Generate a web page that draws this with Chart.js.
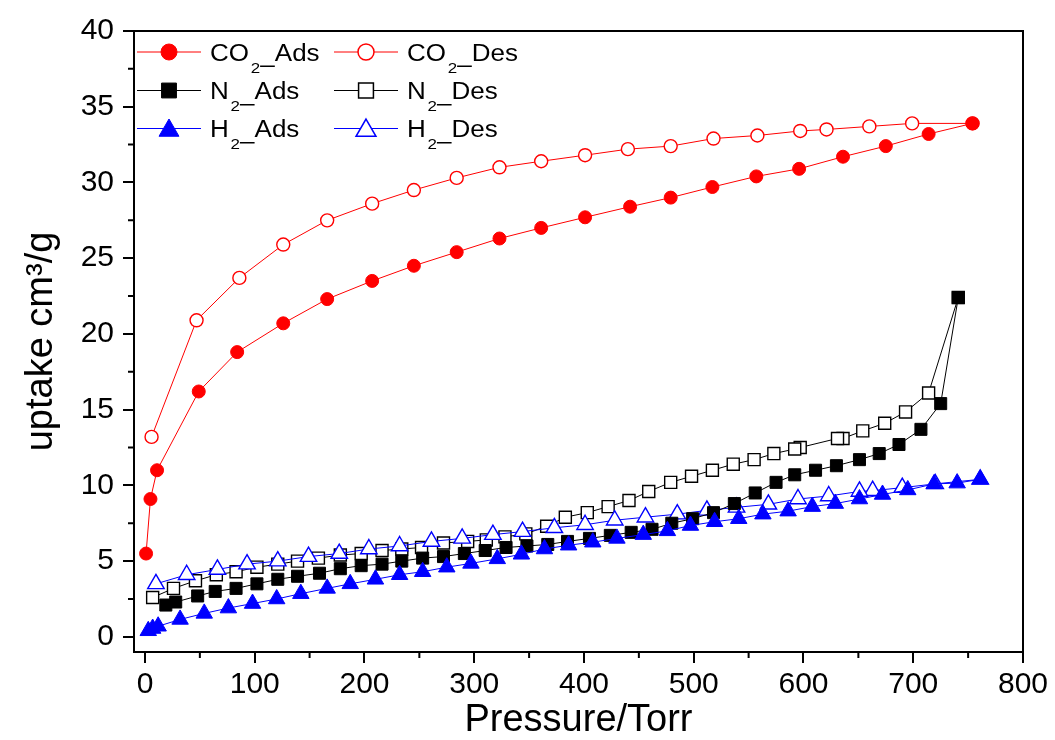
<!DOCTYPE html>
<html lang="en">
<head>
    <meta charset="UTF-8">
    <title>Gas uptake isotherms</title>
    <script src="https://cdn.jsdelivr.net/npm/chart.js"></script>
    <style>
        body { margin: 0; background: #fff; }
        #wrap { width: 1055px; height: 740px; }
    </style>
</head>
<body>
    <div id="wrap"><canvas id="isoChart" width="1055" height="740"></canvas></div>
    <script>
        // axis ticks
        const xTicks = [0, 100, 200, 300, 400, 500, 600, 700, 800];
        const yTicks = [0, 5, 10, 15, 20, 25, 30, 35, 40];

        // CO2 adsorption / desorption (pressure in Torr, uptake in cm3/g)
        const co2AdsP = [1, 5, 11, 49, 84, 126, 166, 207, 245, 284, 323, 361, 401, 442, 479, 517, 557, 596, 636, 675, 714, 754];
        const co2AdsU = [5.5, 9.1, 11.0, 16.2, 18.8, 20.7, 22.3, 23.5, 24.5, 25.4, 26.3, 27.0, 27.7, 28.4, 29.0, 29.7, 30.4, 30.9, 31.7, 32.4, 33.2, 33.9];
        const co2DesP = [754, 699, 660, 621, 597, 558, 518, 479, 440, 401, 361, 323, 284, 245, 207, 166, 126, 86, 47, 6];
        const co2DesU = [33.9, 33.9, 33.7, 33.5, 33.4, 33.1, 32.9, 32.4, 32.2, 31.8, 31.4, 31.0, 30.3, 29.5, 28.6, 27.5, 25.9, 23.7, 20.9, 13.2];

        // N2
        const n2AdsP = [19, 28, 48, 64, 83, 102, 121, 139, 159, 178, 197, 216, 234, 253, 272, 291, 310, 329, 348, 367, 385, 405, 424, 443, 462, 480, 499, 518, 537, 556, 575, 592, 611, 630, 651, 669, 687, 707, 725, 741];
        const n2AdsU = [2.1, 2.3, 2.7, 3.0, 3.2, 3.5, 3.8, 4.0, 4.2, 4.5, 4.7, 4.8, 5.0, 5.2, 5.3, 5.5, 5.7, 5.9, 6.0, 6.1, 6.3, 6.5, 6.7, 6.9, 7.1, 7.5, 7.8, 8.2, 8.8, 9.5, 10.2, 10.7, 11.0, 11.3, 11.7, 12.1, 12.7, 13.7, 15.4, 22.4];
        const n2DesP = [741, 714, 693, 674, 654, 636, 631, 597, 592, 573, 555, 536, 517, 498, 479, 459, 441, 422, 403, 383, 366, 347, 328, 311, 294, 272, 252, 234, 216, 197, 178, 158, 139, 121, 102, 83, 65, 46, 26, 7];
        const n2DesU = [22.4, 16.1, 14.85, 14.1, 13.6, 13.1, 13.1, 12.5, 12.4, 12.1, 11.7, 11.4, 11.0, 10.6, 10.2, 9.6, 9.0, 8.6, 8.2, 7.9, 7.3, 6.8, 6.6, 6.4, 6.3, 6.2, 5.9, 5.8, 5.7, 5.5, 5.4, 5.2, 5.0, 4.8, 4.6, 4.3, 4.1, 3.7, 3.2, 2.6];

        // H2
        const h2AdsP = [3, 7, 12, 32, 54, 76, 98, 120, 142, 166, 187, 210, 232, 253, 275, 297, 321, 343, 364, 386, 408, 430, 454, 476, 497, 519, 541, 563, 586, 608, 629, 651, 672, 695, 719, 740, 761];
        const h2AdsU = [0.4, 0.55, 0.7, 1.15, 1.55, 1.9, 2.2, 2.5, 2.85, 3.2, 3.5, 3.8, 4.1, 4.3, 4.6, 4.85, 5.15, 5.45, 5.8, 6.05, 6.25, 6.5, 6.75, 7.0, 7.35, 7.6, 7.8, 8.1, 8.3, 8.6, 8.8, 9.1, 9.4, 9.7, 10.1, 10.15, 10.4];
        const h2DesP = [761, 720, 690, 663, 651, 623, 595, 568, 539, 512, 485, 456, 428, 401, 373, 344, 317, 289, 261, 232, 204, 177, 149, 121, 93, 66, 38, 10];
        const h2DesU = [10.4, 10.1, 9.85, 9.65, 9.6, 9.3, 9.1, 8.75, 8.55, 8.35, 8.1, 7.9, 7.7, 7.4, 7.2, 6.95, 6.75, 6.5, 6.3, 6.0, 5.8, 5.5, 5.3, 5.0, 4.8, 4.45, 4.1, 3.5];

        const FONT = "'Liberation Sans', Arial, sans-serif";
        const toXY = (xs, ys) => xs.map((x, i) => ({ x: x, y: ys[i] }));

        // name pieces: gas, subscript, suffix; z = draw weight (lower ends up on top)
        const series = [
            { gas: 'CO', sub: '2', tail: 'Ads', xs: co2AdsP, ys: co2AdsU, color: '#ff0000', style: 'circle', r: 6.5, open: false, z: 3 },
            { gas: 'CO', sub: '2', tail: 'Des', xs: co2DesP, ys: co2DesU, color: '#ff0000', style: 'circle', r: 6.5, open: true, z: 6 },
            { gas: 'N', sub: '2', tail: 'Ads', xs: n2AdsP, ys: n2AdsU, color: '#000000', style: 'rect', r: 8.5, open: false, z: 2 },
            { gas: 'N', sub: '2', tail: 'Des', xs: n2DesP, ys: n2DesU, color: '#000000', style: 'rect', r: 8.5, open: true, z: 5 },
            { gas: 'H', sub: '2', tail: 'Ads', xs: h2AdsP, ys: h2AdsU, color: '#0000ff', style: 'triangle', r: 9.5, open: false, z: 1 },
            { gas: 'H', sub: '2', tail: 'Des', xs: h2DesP, ys: h2DesU, color: '#0000ff', style: 'triangle', r: 9.5, open: true, z: 4 }
        ];

        const datasets = series.map((s) => ({
            label: s.gas + '\u2082_' + s.tail,
            data: toXY(s.xs, s.ys),
            borderColor: s.color,
            borderWidth: 1,
            backgroundColor: s.color,
            pointStyle: s.style,
            pointRadius: s.r,
            pointBackgroundColor: s.open ? '#ffffff' : s.color,
            pointBorderColor: s.color,
            pointBorderWidth: s.open ? 1.4 : 1,
            order: s.z,
            tension: 0,
            fill: false
        }));

        // marker for the legend
        function marker(ctx, style, x, y, r, color, open) {
            ctx.save();
            ctx.beginPath();
            if (style === 'circle') {
                ctx.arc(x, y, r, 0, Math.PI * 2);
            } else if (style === 'rect') {
                const h = r * Math.SQRT1_2;
                ctx.rect(x - h, y - h, 2 * h, 2 * h);
            } else {
                const c = Math.cos(Math.PI / 6);
                ctx.moveTo(x, y - r);
                ctx.lineTo(x + c * r, y + r / 2);
                ctx.lineTo(x - c * r, y + r / 2);
                ctx.closePath();
            }
            ctx.fillStyle = open ? '#ffffff' : color;
            ctx.fill();
            ctx.lineWidth = open ? 1.5 : 1;
            ctx.strokeStyle = color;
            ctx.stroke();
            ctx.restore();
        }

        const framePlugin = {
            id: 'frame',
            afterDraw(chart) {
                const ctx = chart.ctx;
                const a = chart.chartArea;
                const xs = chart.scales.x, ys = chart.scales.y;
                ctx.save();
                ctx.strokeStyle = '#000';
                ctx.lineWidth = 2;
                ctx.strokeRect(a.left, a.top, a.right - a.left, a.bottom - a.top);
                // minor ticks
                ctx.beginPath();
                for (let v = 50; v < 800; v += 100) {
                    const px = xs.getPixelForValue(v);
                    ctx.moveTo(px, a.bottom);
                    ctx.lineTo(px, a.bottom + 6);
                }
                for (let v = 2.5; v < 40; v += 5) {
                    const py = ys.getPixelForValue(v);
                    ctx.moveTo(a.left, py);
                    ctx.lineTo(a.left - 6, py);
                }
                ctx.stroke();
                ctx.restore();

                // legend: two columns, three rows (text is a bit wider than plain Arial)
                const colX = [137, 334];
                const rowY = [52, 90.5, 128.5];
                const lr = { circle: 8, rect: 10.5, triangle: 11.5 };
                const sx = 1.13;
                series.forEach((s, i) => {
                    const x0 = colX[i % 2];
                    const y = rowY[Math.floor(i / 2)];
                    ctx.save();
                    ctx.strokeStyle = s.color;
                    ctx.lineWidth = 1;
                    ctx.beginPath();
                    ctx.moveTo(x0, y);
                    ctx.lineTo(x0 + 64, y);
                    ctx.stroke();
                    marker(ctx, s.style, x0 + 32, y + (s.style === 'triangle' ? 2 : 0), lr[s.style], s.color, s.open);
                    ctx.fillStyle = '#000';
                    ctx.textBaseline = 'alphabetic';
                    ctx.textAlign = 'left';
                    const base = y + 8.5;
                    let tx = x0 + 73;
                    ctx.translate(tx, 0);
                    ctx.scale(sx, 1);
                    tx = 0;
                    ctx.font = '23px ' + FONT;
                    ctx.fillText(s.gas, tx, base);
                    tx += ctx.measureText(s.gas).width + 1.5;
                    ctx.font = '15px ' + FONT;
                    ctx.fillText(s.sub, tx, base + 12);
                    tx += ctx.measureText(s.sub).width;
                    ctx.fillRect(tx, base + 5, 13, 1.5);
                    tx += 13;
                    ctx.font = '23px ' + FONT;
                    ctx.fillText(s.tail, tx, base);
                    ctx.restore();
                });
            }
        };

        const ctx = document.getElementById('isoChart').getContext('2d');
        new Chart(ctx, {
            type: 'line',
            data: { datasets: datasets },
            options: {
                responsive: false,
                animation: false,
                devicePixelRatio: 1,
                layout: { padding: { left: 0, right: 32, top: 31, bottom: 0 } },
                plugins: { legend: { display: false }, tooltip: { enabled: false } },
                scales: {
                    x: {
                        type: 'linear',
                        min: -10,
                        max: 800,
                        afterBuildTicks: (scale) => { scale.ticks = xTicks.map(v => ({ value: v })); },
                        afterFit: (scale) => { scale.height = 88; },
                        grid: { display: true, drawOnChartArea: false, drawTicks: true, tickLength: 11, color: '#000', lineWidth: 2 },
                        border: { display: true, color: '#000', width: 2 },
                        ticks: { color: '#000', font: { family: FONT, size: 30 }, padding: 4, maxRotation: 0, autoSkip: false },
                        title: { display: true, text: 'Pressure/Torr', color: '#000', font: { family: FONT, size: 38, lineHeight: 1 }, padding: { top: 0, bottom: 0 } }
                    },
                    y: {
                        type: 'linear',
                        min: -1,
                        max: 40,
                        afterBuildTicks: (scale) => { scale.ticks = yTicks.map(v => ({ value: v })); },
                        afterFit: (scale) => { scale.width = 134; },
                        grid: { display: true, drawOnChartArea: false, drawTicks: true, tickLength: 11, color: '#000', lineWidth: 2 },
                        border: { display: true, color: '#000', width: 2 },
                        ticks: { color: '#000', font: { family: FONT, size: 30 }, padding: 9, autoSkip: false },
                        title: { display: true, text: 'uptake cm\u00b3/g', color: '#000', font: { family: FONT, size: 38, lineHeight: 1 }, padding: { top: 23, bottom: 0 } }
                    }
                }
            },
            plugins: [framePlugin]
        });
    </script>
</body>
</html>
